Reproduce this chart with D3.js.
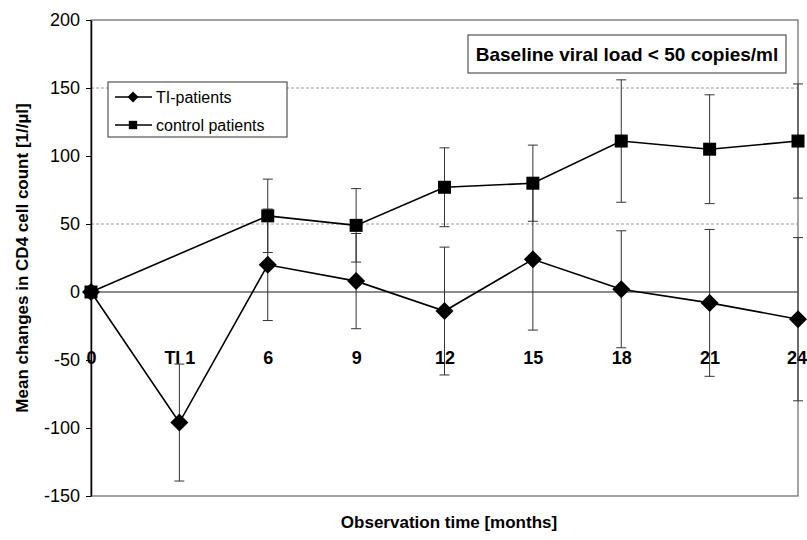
<!DOCTYPE html>
<html>
<head>
<meta charset="utf-8">
<script src="https://cdn.jsdelivr.net/npm/d3@7"></script>
<style>
  body { margin: 0; background: #fff; }
  #chart text { font-family: "Liberation Sans", Arial, sans-serif; }
</style>
</head>
<body>
<div id="chart"></div>
<script>
// Dữ liệu
const categories = ["0", "TI 1", "6", "9", "12", "15", "18", "21", "24"];
const tiMean = [0, -96, 20, 8, -14, 24, 2, -8, -20];
const tiErr = [0, 43, 41, 35, 47, 52, 43, 54, 60];
const controlMean = [0, null, 56, 49, 77, 80, 111, 105, 111];
const controlErr = [0, null, 27, 27, 29, 28, 45, 40, 42];
const yTicks = [-150, -100, -50, 0, 50, 100, 150, 200];
const gridValues = [150, 50];

const width = 807;
const height = 540;
const plot = { left: 91, right: 798, top: 20, bottom: 496 };

const svg = d3.select("#chart")
  .append("svg")
  .attr("width", width)
  .attr("height", height);

// Scales
const x = d3.scalePoint()
  .domain(categories)
  .range([plot.left, plot.right]);

const y = d3.scaleLinear()
  .domain([-150, 200])
  .range([plot.bottom, plot.top]);

// Khung vùng vẽ
svg.append("rect")
  .attr("x", plot.left)
  .attr("y", plot.top)
  .attr("width", plot.right - plot.left)
  .attr("height", plot.bottom - plot.top)
  .attr("fill", "none")
  .attr("stroke", "#666")
  .attr("stroke-width", 1.2);

// Lưới chấm
svg.selectAll(".grid")
  .data(gridValues)
  .enter()
  .append("line")
  .attr("class", "grid")
  .attr("x1", plot.left)
  .attr("x2", plot.right)
  .attr("y1", d => y(d))
  .attr("y2", d => y(d))
  .attr("stroke", "#999")
  .attr("stroke-width", 1)
  .attr("stroke-dasharray", "3,2");

// Đường 0
svg.append("line")
  .attr("x1", plot.left)
  .attr("x2", plot.right)
  .attr("y1", y(0))
  .attr("y2", y(0))
  .attr("stroke", "#666")
  .attr("stroke-width", 1.5);

// Trục Y (dấu trừ thường "-")
const yAxis = svg.append("g")
  .attr("transform", `translate(${plot.left},0)`)
  .call(d3.axisLeft(y)
    .tickValues(yTicks)
    .tickFormat(d => String(d))
    .tickSize(5)
    .tickSizeOuter(0)
    .tickPadding(6));
yAxis.select(".domain").attr("stroke", "#000").attr("stroke-width", 1.5);
yAxis.selectAll("text")
  .style("font-size", "18px")
  .attr("fill", "#000");

// Nhãn trục X (đặt dưới đường 0)
const xAxis = svg.append("g")
  .attr("transform", "translate(0,345)")
  .call(d3.axisBottom(x).tickSize(0).tickPadding(6));
xAxis.select(".domain").remove();
xAxis.selectAll("text")
  .style("font-size", "18px")
  .style("font-weight", "bold")
  .attr("fill", "#000")
  .attr("dx", (d, i) => i === categories.length - 1 ? "-1.5" : "0");

// Dữ liệu dạng điểm
const tiData = categories.map((c, i) => ({ cat: c, v: tiMean[i], e: tiErr[i] }));
const controlData = categories
  .map((c, i) => ({ cat: c, v: controlMean[i], e: controlErr[i] }))
  .filter(d => d.v !== null);

// Error bars
function drawErrorBars(data, cls) {
  const g = svg.append("g").attr("class", cls);
  const bars = g.selectAll("g")
    .data(data.filter(d => d.e > 0))
    .enter()
    .append("g");
  bars.append("line")
    .attr("x1", d => x(d.cat))
    .attr("x2", d => x(d.cat))
    .attr("y1", d => y(d.v - d.e))
    .attr("y2", d => y(d.v + d.e))
    .attr("stroke", "#333")
    .attr("stroke-width", 1);
  [-1, 1].forEach(s => {
    bars.append("line")
      .attr("x1", d => x(d.cat) - 5)
      .attr("x2", d => x(d.cat) + 5)
      .attr("y1", d => y(d.v + s * d.e))
      .attr("y2", d => y(d.v + s * d.e))
      .attr("stroke", "#333")
      .attr("stroke-width", 1);
  });
}
drawErrorBars(tiData, "err-ti");
drawErrorBars(controlData, "err-control");

const line = d3.line()
  .x(d => x(d.cat))
  .y(d => y(d.v));

svg.append("path")
  .datum(tiData)
  .attr("fill", "none")
  .attr("stroke", "#000")
  .attr("stroke-width", 1.6)
  .attr("d", line);

svg.append("path")
  .datum(controlData)
  .attr("fill", "none")
  .attr("stroke", "#000")
  .attr("stroke-width", 1.6)
  .attr("d", line);

const diamond = d3.symbol().type(d3.symbolSquare).size(162);
const square = d3.symbol().type(d3.symbolSquare).size(169);

svg.selectAll(".pt-control")
  .data(controlData)
  .enter()
  .append("path")
  .attr("class", "pt-control")
  .attr("d", square)
  .attr("transform", d => `translate(${x(d.cat)},${y(d.v)})`)
  .attr("fill", "#000");

svg.selectAll(".pt-ti")
  .data(tiData)
  .enter()
  .append("path")
  .attr("class", "pt-ti")
  .attr("d", diamond)
  .attr("transform", d => `translate(${x(d.cat)},${y(d.v)}) rotate(45)`)
  .attr("fill", "#000");

// Legend
const legend = svg.append("g");
legend.append("rect")
  .attr("x", 108)
  .attr("y", 82)
  .attr("width", 179)
  .attr("height", 55)
  .attr("fill", "#fff")
  .attr("stroke", "#333")
  .attr("stroke-width", 1);

const legendItems = [
  { label: "TI-patients", shape: "diamond" },
  { label: "control patients", shape: "square" }
];
const li = legend.selectAll(".legend-item")
  .data(legendItems)
  .enter()
  .append("g")
  .attr("class", "legend-item")
  .attr("transform", (d, i) => `translate(0,${97 + i * 28})`);
li.append("line")
  .attr("x1", 115)
  .attr("x2", 152)
  .attr("stroke", "#000")
  .attr("stroke-width", 1.6);
li.append("path")
  .attr("d", d => d.shape === "diamond"
    ? d3.symbol().type(d3.symbolSquare).size(60)()
    : d3.symbol().type(d3.symbolSquare).size(70)())
  .attr("transform", d => d.shape === "diamond" ? "translate(133,0) rotate(45)" : "translate(133,0)")
  .attr("fill", "#000");
li.append("text")
  .attr("x", 156)
  .attr("y", 6)
  .style("font-size", "16px")
  .attr("fill", "#000")
  .text(d => d.label);

// Hộp chú thích
svg.append("rect")
  .attr("x", 468)
  .attr("y", 35)
  .attr("width", 318)
  .attr("height", 38)
  .attr("fill", "#fff")
  .attr("stroke", "#333")
  .attr("stroke-width", 1);
svg.append("text")
  .attr("x", 627)
  .attr("y", 61)
  .attr("text-anchor", "middle")
  .style("font-size", "19px")
  .style("font-weight", "bold")
  .attr("fill", "#000")
  .text("Baseline viral load < 50 copies/ml");

// Tiêu đề trục
svg.append("text")
  .attr("x", 449)
  .attr("y", 528)
  .attr("text-anchor", "middle")
  .style("font-size", "17px")
  .style("font-weight", "bold")
  .attr("fill", "#000")
  .text("Observation time [months]");

svg.append("text")
  .attr("transform", "translate(28,258) rotate(-90)")
  .attr("text-anchor", "middle")
  .style("font-size", "17px")
  .style("font-weight", "bold")
  .attr("fill", "#000")
  .text("Mean changes in CD4 cell count [1//µl]");
</script>
</body>
</html>
